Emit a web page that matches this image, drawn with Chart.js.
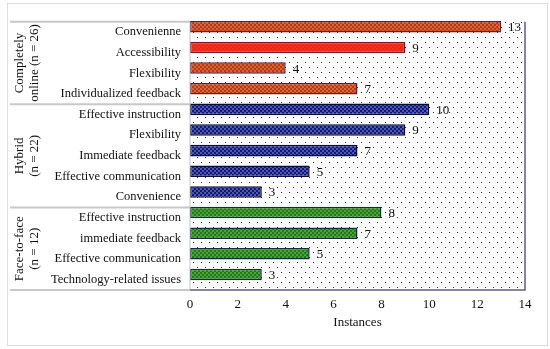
<!DOCTYPE html>
<html>
<head>
<meta charset="utf-8">
<script src="https://cdn.jsdelivr.net/npm/chart.js@4.4.1/dist/chart.umd.min.js"></script>
<style>
  body { margin: 0; background: #fff; }
</style>
</head>
<body>
<canvas id="chart" width="550" height="349"></canvas>
<script>
const categories = [
  'Convenienne', 'Accessibility', 'Flexibility', 'Individualized feedback',
  'Effective instruction', 'Flexibility', 'Immediate feedback', 'Effective communication', 'Convenience',
  'Effective instruction', 'immediate feedback', 'Effective communication', 'Technology-related issues'
]
const instances = [13, 9, 4, 7, 10, 9, 7, 5, 3, 8, 7, 5, 3]
const groupTitles = [
  ['Completely', 'online (n = 26)'],
  ['Hybrid', '(n = 22)'],
  ['Face-to-face', '(n = 12)']
]
const groupSizes = [4, 5, 4]
const xMin = 0
const xMax = 14
const xStep = 2

// look of the bars, one entry per bar
const barFill = ['online', 'access', 'online', 'online', 'hybrid', 'hybrid', 'hybrid', 'hybrid', 'hybrid', 'f2f', 'f2f', 'f2f', 'f2f']

const canvas = document.getElementById('chart')
const ctx = canvas.getContext('2d')
const labelShift = 5.2
const serif = "'Liberation Serif', 'Times New Roman', serif"

function checker (base, dot) {
  const tile = document.createElement('canvas')
  tile.width = 4
  tile.height = 4
  const g = tile.getContext('2d')
  g.fillStyle = base
  g.fillRect(0, 0, 4, 4)
  g.fillStyle = dot
  g.fillRect(0, 0, 2, 2)
  g.fillRect(2, 2, 2, 2)
  return ctx.createPattern(tile, 'repeat')
}

function dots () {
  const tile = document.createElement('canvas')
  tile.width = 8
  tile.height = 10
  const g = tile.getContext('2d')
  g.fillStyle = '#fff'
  g.fillRect(0, 0, 8, 10)
  g.fillStyle = '#222'
  g.fillRect(1, 2, 1, 1)
  g.fillRect(5, 7, 1, 1)
  return ctx.createPattern(tile, 'repeat')
}

const fills = {
  online: checker('#b8361c', '#d9682e'),
  access: checker('#ff1c14', '#e03a1c'),
  hybrid: checker('#16186e', '#4b58b4'),
  f2f: checker('#47a535', '#2a7420')
}
const edges = { online: '#6e1830', access: '#7a1830', hybrid: '#0a0a3c', f2f: '#0c3038' }

const decor = {
  id: 'decor',
  beforeDraw (chart) {
    const c = chart.ctx
    const a = chart.chartArea
    c.save()
    c.fillStyle = '#fff'
    c.fillRect(0, 0, chart.width, chart.height)
    c.fillStyle = dots()
    c.fillRect(a.left, a.top + labelShift, a.right - a.left, a.bottom - a.top)
    c.restore()
  },
  afterDatasetsDraw (chart) {
    const c = chart.ctx
    const a = chart.chartArea
    const y = chart.scales.y
    const band = (a.bottom - a.top) / categories.length
    c.save()

    // plot border
    c.strokeStyle = '#5c5c8c'
    c.lineWidth = 1.5
    c.beginPath()
    c.moveTo(a.right, a.top + labelShift)
    c.lineTo(a.right, a.bottom + labelShift)
    c.lineTo(a.left, a.bottom + labelShift)
    c.stroke()
    c.strokeStyle = '#c4c4c4'
    c.lineWidth = 1
    c.beginPath()
    c.moveTo(a.left, a.top + labelShift)
    c.lineTo(a.left, a.bottom + labelShift)
    c.stroke()

    // value labels
    c.fillStyle = '#111'
    c.font = '13px ' + serif
    c.textBaseline = 'middle'
    c.textAlign = 'left'
    chart.getDatasetMeta(0).data.forEach(function (bar, i) {
      c.fillText(String(instances[i]), bar.x + 7, bar.y + 1)
    })

    // group separators and titles
    let start = 0
    const cuts = [0]
    groupSizes.forEach(function (n) { start += n; cuts.push(start) })
    c.strokeStyle = '#c8c8c8'
    c.lineWidth = 2
    for (const k of cuts) {
      const py = y.getPixelForValue(k) - band / 2 + labelShift
      c.beginPath()
      c.moveTo(10, py)
      c.lineTo(a.left, py)
      c.stroke()
    }
    c.textAlign = 'center'
    c.font = '13px ' + serif
    groupTitles.forEach(function (lines, g) {
      const top = y.getPixelForValue(cuts[g]) - band / 2 + labelShift
      const bottom = y.getPixelForValue(cuts[g + 1] - 1) + band / 2 + labelShift
      c.save()
      c.translate(0, (top + bottom) / 2)
      c.rotate(-Math.PI / 2)
      lines.forEach(function (t, j) {
        c.fillText(t, 0, 20 + j * 15)
      })
      c.restore()
    })

    // frame round the picture
    c.strokeStyle = '#dcdcdc'
    c.lineWidth = 1
    c.strokeRect(7.5, 3.5, 540, 342)
    c.restore()
  }
}

Chart.defaults.font.family = serif
Chart.defaults.font.size = 12.5
Chart.defaults.color = '#111'

new Chart(canvas, {
  type: 'bar',
  data: {
    labels: categories,
    datasets: [{
      data: instances,
      backgroundColor: barFill.map(function (k) { return fills[k] }),
      borderColor: barFill.map(function (k) { return edges[k] }),
      borderWidth: 1.5,
      borderSkipped: false,
      categoryPercentage: 1,
      barPercentage: 0.56
    }]
  },
  options: {
    indexAxis: 'y',
    responsive: false,
    animation: false,
    layout: { padding: { left: 0, right: 25, top: 12.8, bottom: 17 } },
    plugins: {
      legend: { display: false },
      tooltip: { enabled: false }
    },
    scales: {
      x: {
        min: xMin,
        max: xMax,
        grid: { display: false, drawTicks: false },
        border: { display: false },
        ticks: { stepSize: xStep, padding: 11.7, color: '#111', font: { size: 13 } },
        title: { display: true, text: 'Instances', padding: { top: 2, bottom: 2 }, color: '#111', font: { size: 13 } },
        afterFit: function (scale) { scale.height = 47.2 }
      },
      y: {
        grid: { display: false, drawTicks: false },
        border: { display: false },
        ticks: { padding: 9, labelOffset: labelShift, color: '#111', autoSkip: false },
        afterFit: function (scale) { scale.width = 190 }
      }
    }
  },
  plugins: [decor]
})
</script>
</body>
</html>
